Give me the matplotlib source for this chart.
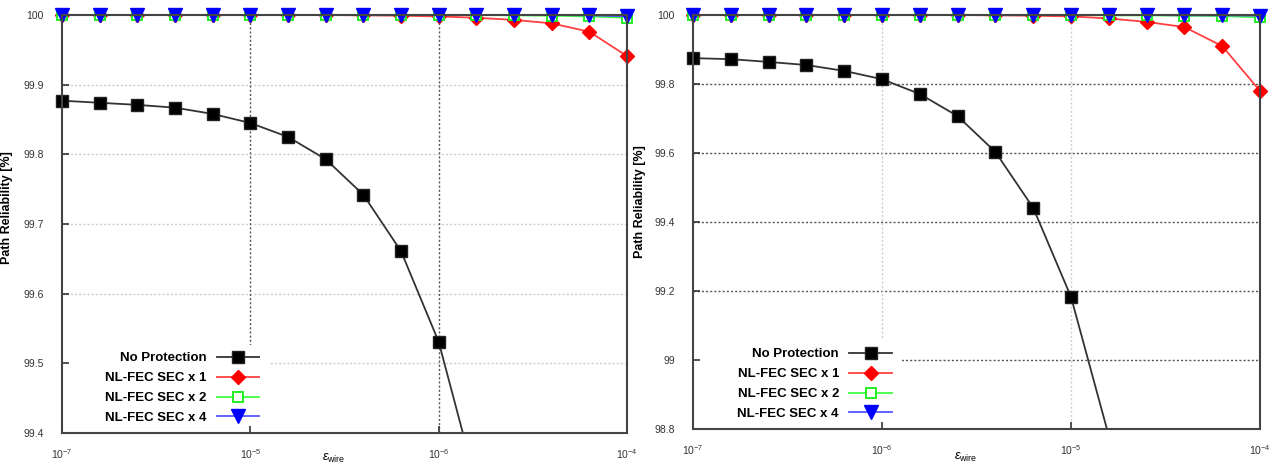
import matplotlib
matplotlib.use("Agg")
import matplotlib.pyplot as plt
from matplotlib.patches import Rectangle
from matplotlib.transforms import Bbox, TransformedBbox

plt.rcParams["font.family"] = ["Liberation Sans", "DejaVu Sans"]
plt.rcParams["mathtext.fontset"] = "custom"
plt.rcParams["mathtext.rm"] = "Liberation Sans"
plt.rcParams["mathtext.it"] = "Liberation Sans:italic"

# ---- Data ----
eps_wire = [1.0e-7, 1.585e-7, 2.512e-7, 3.981e-7, 6.310e-7,
            1.0e-6, 1.585e-6, 2.512e-6, 3.981e-6, 6.310e-6,
            1.0e-5, 1.585e-5, 2.512e-5, 3.981e-5, 6.310e-5, 1.0e-4]

left_none = [99.877, 99.874, 99.871, 99.867, 99.858, 99.845, 99.825, 99.793,
             99.742, 99.661, 99.531, 99.327, 99.0, 98.5, 97.7, 96.5]
left_sec1 = [100.0, 100.0, 100.0, 100.0, 100.0, 100.0, 100.0, 100.0,
             99.9995, 99.999, 99.998, 99.996, 99.993, 99.988, 99.976, 99.941]
left_sec2 = [100.0, 100.0, 100.0, 100.0, 100.0, 100.0, 100.0, 100.0,
             100.0, 100.0, 100.0, 100.0, 99.9995, 99.999, 99.998, 99.996]
left_sec4 = [100.0, 100.0, 100.0, 100.0, 100.0, 100.0, 100.0, 100.0,
             100.0, 100.0, 100.0, 100.0, 100.0, 100.0, 99.9995, 99.998]

right_none = [99.875, 99.872, 99.864, 99.855, 99.838, 99.814, 99.771, 99.707,
              99.603, 99.441, 99.183, 98.78, 98.1, 97.0, 95.5, 93.0]
right_sec1 = [100.0, 100.0, 100.0, 100.0, 100.0, 100.0, 100.0, 100.0,
              99.999, 99.998, 99.996, 99.99, 99.98, 99.965, 99.91, 99.78]
right_sec2 = [100.0, 100.0, 100.0, 100.0, 100.0, 100.0, 100.0, 100.0,
              100.0, 100.0, 100.0, 99.999, 99.999, 99.998, 99.997, 99.993]
right_sec4 = [100.0, 100.0, 100.0, 100.0, 100.0, 100.0, 100.0, 100.0,
              100.0, 100.0, 100.0, 100.0, 100.0, 99.999, 99.999, 99.998]

series_labels = ["No Protection", "NL-FEC SEC x 1", "NL-FEC SEC x 2", "NL-FEC SEC x 4"]

left_yticks = [99.4, 99.5, 99.6, 99.7, 99.8, 99.9, 100]
left_yticklabels = ["99.4", "99.5", "99.6", "99.7", "99.8", "99.9", "100"]
right_yticks = [98.8, 99.0, 99.2, 99.4, 99.6, 99.8, 100]
right_yticklabels = ["98.8", "99", "99.2", "99.4", "99.6", "99.8", "100"]

xticks = [1e-7, 1e-6, 1e-5, 1e-4]
left_xticklabels = [r"$10^{-7}$", r"$10^{-5}$", r"$10^{-6}$", r"$10^{-4}$"]
right_xticklabels = [r"$10^{-7}$", r"$10^{-6}$", r"$10^{-5}$", r"$10^{-4}$"]

STYLES = [
    dict(color="#333333", marker="s", ms=8.5, mfc="black", mec="#222222", lw=1.3),
    dict(color="#ff4040", marker="D", ms=7.2, mfc="#ff0000", mec="#ff0000", lw=1.3),
    dict(color="#40ff40", marker="s", ms=7.5, mfc="white", mec="#22ee22", mew=1.4, lw=1.3),
    dict(color="#5555ff", marker="v", ms=9.5, mfc="#0000ff", mec="#0000ff", lw=1.3),
]


def draw_panel(ax, ys, yticks, yticklabels, xticklabels, hgrid_col, vgrid_col, box_w, box_h):
    ax.set_xscale("log")
    ax.set_xlim(1e-7, 1e-4)
    ax.set_ylim(yticks[0], yticks[-1])

    # grid
    for yv in yticks[1:-1]:
        ax.axhline(yv, color=hgrid_col, ls=(0, (1.5, 1.5)), lw=1.0, zorder=0.5)
    for xv in xticks[1:-1]:
        ax.axvline(xv, color=vgrid_col, ls=(0, (1.5, 1.5)), lw=1.0, zorder=0.5)

    # white key box hides the grid behind the legend
    ax.add_patch(Rectangle((0, 0), box_w, box_h, transform=ax.transAxes,
                           facecolor="white", edgecolor="none", zorder=1))

    clip = TransformedBbox(Bbox([[-0.03, 0.0], [1.03, 1.06]]), ax.transAxes)
    for i, (vals, lab, st) in enumerate(zip(ys, series_labels, STYLES)):
        (ln,) = ax.plot(eps_wire, vals, label=lab, zorder=2 + i, **st)
        ln.set_clip_box(clip)

    ax.set_yticks(yticks)
    ax.set_yticklabels(yticklabels)
    ax.set_xticks(xticks)
    ax.set_xticklabels(xticklabels)
    ax.minorticks_off()
    ax.tick_params(axis="both", direction="in", length=5, width=1.2,
                   colors="#333333", labelsize=7.5)
    ax.tick_params(axis="y", pad=13)
    ax.tick_params(axis="x", pad=10)
    for sp in ax.spines.values():
        sp.set_color("#444444")
        sp.set_linewidth(1.5)
        sp.set_zorder(8)

    ax.set_ylabel("Path Reliability [%]", fontsize=9, fontweight="bold")
    ax.set_xlabel(r"$\varepsilon_{\mathrm{wire}}$", fontsize=9)

    leg = ax.legend(loc="lower right", bbox_to_anchor=(box_w, -0.004),
                    markerfirst=False, numpoints=1, handlelength=3.2,
                    frameon=False, borderpad=0.3, labelspacing=0.58,
                    handletextpad=0.8, prop=dict(weight="bold", size=9.5))
    leg.set_zorder(10)


fig = plt.figure(figsize=(12.75, 4.66), dpi=100)
ax1 = fig.add_axes([62 / 1275, 33 / 466, 565 / 1275, 418 / 466])
ax2 = fig.add_axes([693 / 1275, 37 / 466, 567 / 1275, 414 / 466])

draw_panel(ax1, [left_none, left_sec1, left_sec2, left_sec4],
           left_yticks, left_yticklabels, left_xticklabels, "#cccccc", "#555555",
           0.368, 0.21)
draw_panel(ax2, [right_none, right_sec1, right_sec2, right_sec4],
           right_yticks, right_yticklabels, right_xticklabels, "#555555", "#cccccc",
           0.369, 0.215)

ax1.yaxis.set_label_coords(-0.087, 0.54)
ax2.yaxis.set_label_coords(-0.083, 0.55)
ax1.xaxis.set_label_coords(0.48, -0.045)
ax2.xaxis.set_label_coords(0.48, -0.052)

fig.savefig("out.png", dpi=100)
plt.close(fig)
